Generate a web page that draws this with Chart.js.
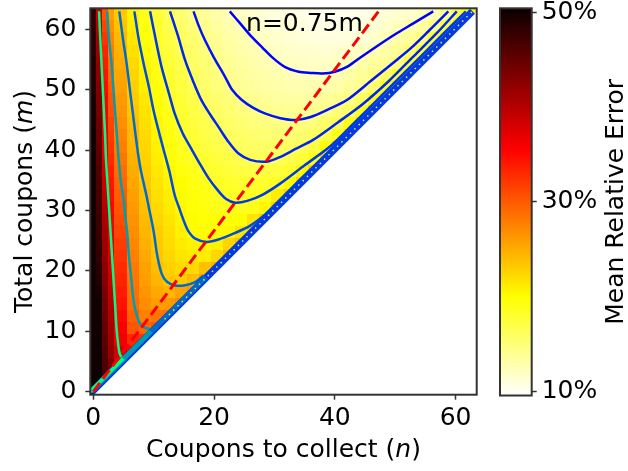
<!DOCTYPE html>
<html lang="en">
<head>
<meta charset="UTF-8">
<title>Coupon collector error</title>
<style>
  body { margin: 0; background: #fff; }
  #wrap { position: relative; width: 628px; height: 471px; }
  #heat { position: absolute; left: 0; top: 0; }
  #cbar { position: absolute; left: 490px; top: 0; }
</style>
</head>
<body>
<div id="wrap">
  <canvas id="heat" width="490" height="471"></canvas>
  <canvas id="cbar" width="138" height="471"></canvas>
</div>
<script src="https://cdn.jsdelivr.net/npm/chart.js@4.4.0/dist/chart.umd.min.js"></script>
<script>
const FONT = "'DejaVu Sans', sans-serif";
const FSIZE = 25;

const xTicks = [0, 20, 40, 60];
const yTicks = [0, 10, 20, 30, 40, 50, 60];
const cbarTicks = [10, 30, 50];
const errMin = 9.6, errMax = 50.4;

// cell boundaries: single columns for n = 0..3, pairs after that; rows are pairs of m
const nEdges = [-0.5, 0.5, 1.5, 2.5, 3.5, 5.5, 7.5, 9.5, 11.5, 13.5, 15.5, 17.5, 19.5, 21.5, 23.5,
  25.5, 27.5, 29.5, 31.5, 33.5, 35.5, 37.5, 39.5, 41.5, 43.5, 45.5, 47.5, 49.5, 51.5, 53.5,
  55.5, 57.5, 59.5, 61.5, 63.5];
const mEdges = [-0.5, 1.5, 3.5, 5.5, 7.5, 9.5, 11.5, 13.5, 15.5, 17.5, 19.5, 21.5, 23.5, 25.5,
  27.5, 29.5, 31.5, 33.5, 35.5, 37.5, 39.5, 41.5, 43.5, 45.5, 47.5, 49.5, 51.5, 53.5, 55.5,
  57.5, 59.5, 61.5, 63.5];

// mean relative error (%), bottom row first
const errRows = [
  [50, 50],
  [50, 50, 47.2, 44.2],
  [50, 50, 46.4, 43.2, 39.7],
  [50, 50, 45.9, 41.9, 38.2, 35.2],
  [50, 50, 45.4, 41.4, 36.4, 33.2, 32.2],
  [50, 50, 44.9, 40.9, 35.9, 30.4, 29.2, 30.2],
  [50, 50, 44.4, 40.4, 35.2, 29.7, 27.7, 28.4, 28.7],
  [50, 50, 43.9, 39.9, 34.4, 28.9, 26.9, 25.9, 26.2, 27.2],
  [50, 49.5, 43.4, 39.4, 33.9, 28.7, 26.4, 25.2, 24.4, 25.5, 26.2],
  [50, 49, 42.9, 38.9, 33.4, 28.4, 25.9, 24.4, 23.3, 22.9, 24, 25.7],
  [50, 48.5, 42.4, 38.4, 32.9, 28.1, 25.6, 24, 22.9, 22.3, 22.2, 23.8, 24.7],
  [50, 48, 41.9, 37.9, 32.4, 27.7, 25.2, 23.5, 22.4, 21.6, 21.2, 21.1, 22.4, 24.2],
  [50, 47.8, 41.4, 37.2, 31.9, 27.3, 24.8, 23.2, 22.1, 21.2, 20.7, 20.5, 20.8, 22.6, 23.7],
  [50, 47.5, 40.9, 36.6, 31.4, 26.9, 24.4, 23, 21.9, 20.8, 20.2, 20, 20.1, 20.3, 21.6, 23.2],
  [50, 47.3, 40.4, 36, 30.9, 26.6, 24.1, 22.6, 21.6, 20.6, 20, 19.7, 19.6, 19.6, 19.9, 21.5, 23],
  [50, 47, 39.9, 35.4, 30.4, 26.2, 23.8, 22.2, 21.2, 20.4, 19.8, 19.4, 19.1, 18.9, 18.8, 19, 20.4, 22.7],
  [50, 46.7, 39.4, 34.8, 29.9, 25.8, 23.6, 21.9, 21, 20.2, 19.6, 19.2, 18.8, 18.6, 18.4, 18.5, 18.9, 21, 22.5],
  [50, 46.4, 38.9, 34.2, 29.4, 25.4, 23.3, 21.6, 20.7, 20, 19.4, 18.9, 18.5, 18.2, 18, 18, 18.2, 18.4, 20.2, 22.2],
  [50, 46, 38.4, 33.6, 28.9, 25, 23, 21.3, 20.3, 19.5, 18.9, 18.4, 18, 17.6, 17.3, 17.2, 17.3, 17.5, 18.2, 20.3, 22.2],
  [50, 45.6, 37.9, 33, 28.4, 24.7, 22.7, 21, 19.9, 19, 18.5, 18, 17.5, 17.1, 16.7, 16.5, 16.4, 16.5, 16.9, 17.6, 19.4, 22.2],
  [50, 45.2, 37.4, 32.4, 27.9, 24.4, 22.4, 20.8, 19.6, 18.7, 18.1, 17.5, 17, 16.6, 16.2, 16, 15.8, 15.8, 16.1, 16.5, 17.4, 19.9, 22],
  [50, 44.8, 36.9, 31.9, 27.4, 24.2, 22.2, 20.6, 19.4, 18.5, 17.8, 17.1, 16.6, 16.2, 15.8, 15.5, 15.3, 15.2, 15.3, 15.5, 16, 16.8, 18.9, 21.7],
  [49.5, 44.4, 36.4, 31.4, 26.9, 23.9, 21.9, 20.4, 19.2, 18.3, 17.5, 16.8, 16.3, 15.8, 15.4, 15.1, 14.8, 14.7, 14.7, 14.8, 15.1, 15.7, 16.6, 19.2, 21.7],
  [49.5, 44, 35.9, 30.7, 26.4, 23.5, 21.6, 20.1, 18.9, 18, 17.2, 16.5, 15.9, 15.4, 14.9, 14.6, 14.3, 14.1, 14, 14, 14.2, 14.5, 15.1, 16, 18.6, 21.7],
  [49.5, 43.5, 35.4, 30.2, 26.1, 23.2, 21.3, 19.8, 18.6, 17.7, 16.9, 16.1, 15.5, 15, 14.5, 14.1, 13.8, 13.6, 13.5, 13.4, 13.5, 13.7, 14.2, 14.9, 16.1, 19, 21.2],
  [49, 43, 34.9, 29.7, 25.7, 22.9, 20.9, 19.4, 18.2, 17.4, 16.5, 15.7, 15.1, 14.5, 14, 13.6, 13.3, 13.1, 12.9, 12.8, 12.8, 12.9, 13.2, 13.7, 14.4, 15.4, 18.7, 21.2],
  [49, 42.5, 34.4, 29.2, 25.3, 22.6, 20.7, 19.2, 18, 17.1, 16.2, 15.5, 14.8, 14.2, 13.7, 13.3, 13, 12.8, 12.6, 12.4, 12.4, 12.4, 12.7, 13.2, 13.8, 14.5, 15.9, 18.4, 20.7],
  [49, 42, 33.9, 28.7, 24.9, 22.2, 20.4, 18.9, 17.8, 16.8, 15.9, 15.2, 14.4, 13.9, 13.4, 13, 12.7, 12.4, 12.2, 12, 11.9, 11.9, 12.2, 12.6, 13.1, 13.6, 13.9, 14.8, 17.7, 20.2],
  [48.5, 41.5, 33.4, 28.1, 24.6, 21.8, 20.1, 18.6, 17.5, 16.5, 15.7, 14.9, 14.2, 13.6, 13.1, 12.7, 12.3, 12, 11.8, 11.6, 11.5, 11.4, 11.6, 11.8, 12.2, 12.7, 13.2, 14, 15.4, 17.9, 20.2],
  [48.5, 41, 32.4, 27.4, 24.2, 21.4, 19.7, 18.3, 17.1, 16.2, 15.4, 14.5, 13.9, 13.3, 12.8, 12.3, 11.9, 11.6, 11.4, 11.2, 11, 10.9, 10.9, 11, 11.3, 11.7, 12.4, 13.1, 13.8, 14.8, 17.8, 20.2],
  [48, 40, 31.4, 26.6, 23.7, 21, 19.3, 18, 16.8, 15.8, 14.9, 14.2, 13.5, 12.9, 12.4, 12, 11.6, 11.3, 11.1, 10.9, 10.7, 10.6, 10.6, 10.7, 10.9, 11.3, 11.8, 12.3, 12.8, 13.4, 14.8, 17.6, 20.2],
  [48, 39, 30.4, 25.9, 23.2, 20.7, 18.9, 17.8, 16.5, 15.4, 14.5, 13.8, 13.1, 12.5, 12, 11.6, 11.3, 11, 10.8, 10.6, 10.4, 10.3, 10.3, 10.4, 10.6, 10.9, 11.2, 11.5, 11.8, 12.1, 12.7, 14.2, 17.7, 20.2]
];

// contour levels (%) and their traced paths as [n, m]
const levels = [12.4, 14.4, 16.4, 18.4, 20.4, 23.4, 28.4, 38.4];
const c12 = [[22.6,63],[24.5,60.8],[26.2,58.8],[28,57],[29.5,55.5],[31.7,53.8],[34,53],[36,52.8],[38,52.7],
  [40,53],[42,53.8],[44,55.2],[47.4,57.5],[50,59.2],[53,61],[56.3,63]];
const c14 = [[16.6,63],[17.5,60.5],[18.5,58.2],[20,55.3],[21.8,52.2],[23,50],[24.6,48.3],[26.5,47],[28.4,46.1],
  [31,45.3],[33.5,45],[36,45.5],[39,46.8],[42,48.3],[46,51.5],[50.2,54.9],[52.6,56.9],[55.5,59.7],[58.8,63]];
const c16 = [[12.7,63],[14,59],[15.2,54.9],[16.5,51.5],[17.9,48.3],[19.3,46],[20.7,43.9],[22.3,41.5],[24,39.5],
  [26,38.4],[28.7,38.1],[31,38.9],[33.5,40.2],[36.4,41.7],[40.5,44.6],[44.7,47.7],[49,51.5],[53,55.5],[57,59.5],[60.2,63]];
const c18 = [[9.4,63],[10.3,58.5],[11.3,53.8],[12.5,49.5],[13.5,46],[14.8,42.8],[16.2,40.3],[17.5,38],[19,35.5],
  [20.5,33.5],[22,31.9],[23.5,31.3],[25.5,31.6],[28,32.6],[31,34.5],[35,37.5],[39.2,40.6],[43,44.3],[47,48.3],
  [52,53.3],[57,58.3],[61.7,63]];
const c20 = [[6.8,63],[7.5,58.5],[8.3,54.5],[9.2,50.5],[10,46.5],[11,42.5],[11.8,39.5],[12.6,36.5],[13.5,32.5],
  [14.2,30.5],[15.1,28],[15.8,26.5],[16.8,25.4],[18.8,24.8],[21,25.3],[23.5,26.3],[26,27.5],[28.5,29.4],
  [30.5,31.4],[34,34.9],[38,38.8],[42,42.8],[46,46.7]];
const c23 = [[4.3,63],[4.9,58.5],[5.5,54.5],[6,50.5],[6.5,46.5],[7,42.5],[7.4,39.5],[7.9,36.5],[8.8,32.5],
  [9.2,30.5],[10,26.5],[10.6,22.5],[11.3,19.6],[12.2,18.2],[13.5,17.6],[15,17.6],[16.8,18.1],[18.2,19.2]];
const c28 = [[2.3,63],[2.6,58.5],[3,54.5],[3.3,50.5],[3.6,46.5],[3.9,42.5],[4.2,38.5],[4.6,34.5],[5,32],
  [5.3,29],[5.6,26.5],[5.9,22.5],[6.3,18.5],[6.6,15.5],[6.9,13.8],[7.4,12],[7.9,11],[8.8,10.5],[9.8,10.3]];
const c38 = [[0.95,63],[1.15,58.5],[1.35,54.5],[1.55,50.5],[1.75,46.5],[1.95,42.5],[2.1,38.5],[2.35,34.5],
  [2.6,30.5],[2.85,26.5],[3.1,22.5],[3.35,18.5],[3.6,14.5],[3.85,10.5],[4.1,8],[4.4,6.2],[5,5.4]];

// contours that pile up along the n = m edge
const bandAll = [[-0.2,0],[62.8,63]];
const band23 = [[-0.35,0],[18.65,19]];
const band28 = [[-0.45,0],[9.55,10]];
const band38 = [[-0.55,0],[4.95,5.5]];
const bandDots = [[11.8,12],[62.8,63]];

const ratioLine = [[0,0],[47.25,63]];

function hotR(v) {
  let s = 1 - (v - errMin) / (errMax - errMin);
  s = Math.min(1, Math.max(0, s));
  const r = s < 0.365079 ? 0.0416 + 0.9584 * s / 0.365079 : 1;
  const g = s < 0.365079 ? 0 : (s < 0.746032 ? (s - 0.365079) / 0.380953 : 1);
  const b = s < 0.746032 ? 0 : (s - 0.746032) / 0.253968;
  return 'rgb(' + Math.round(r * 255) + ',' + Math.round(g * 255) + ',' + Math.round(b * 255) + ')';
}

function winter(level) {
  const t = (level - levels[0]) / (levels[levels.length - 1] - levels[0]);
  return 'rgb(0,' + Math.round(255 * t) + ',' + Math.round(255 * (1 - 0.5 * t)) + ')';
}

const toXY = pts => pts.map(p => ({x: p[0], y: p[1]}));

function lineSet(pts, color, width, extra) {
  return Object.assign({
    data: toXY(pts), showLine: true, borderColor: color, borderWidth: width,
    pointRadius: 0, fill: false, tension: 0.3
  }, extra || {});
}

// text with an italic variable, centred on (cx, cy)
function drawMixed(ctx, parts, cx, cy, rotate) {
  ctx.save();
  ctx.translate(cx, cy);
  if (rotate) ctx.rotate(-Math.PI / 2);
  const fonts = parts.map(p => (p[1] ? 'italic ' : '') + FSIZE + 'px ' + FONT);
  let total = 0;
  const widths = parts.map((p, i) => { ctx.font = fonts[i]; const w = ctx.measureText(p[0]).width; total += w; return w; });
  let xPos = -total / 2;
  ctx.textAlign = 'left';
  ctx.textBaseline = 'middle';
  ctx.fillStyle = '#000';
  parts.forEach((p, i) => { ctx.font = fonts[i]; ctx.fillText(p[0], xPos, 0); xPos += widths[i]; });
  ctx.restore();
}

function drawLabel(ctx, text, px, py, align) {
  ctx.save();
  ctx.font = FSIZE + 'px ' + FONT;
  ctx.fillStyle = '#000';
  ctx.textAlign = align;
  ctx.textBaseline = 'middle';
  ctx.fillText(text, px, py);
  ctx.restore();
}

const heatmapPlugin = {
  id: 'heatmap',
  beforeDatasetsDraw(chart) {
    const {ctx, scales: {x, y}} = chart;
    ctx.save();
    // only cells with n <= m hold a value
    ctx.beginPath();
    ctx.moveTo(x.getPixelForValue(x.min), y.getPixelForValue(y.min));
    ctx.lineTo(x.getPixelForValue(x.min + 0.5), y.getPixelForValue(y.min));
    ctx.lineTo(x.getPixelForValue(x.max), y.getPixelForValue(y.max - 0.5));
    ctx.lineTo(x.getPixelForValue(x.max), y.getPixelForValue(y.max));
    ctx.lineTo(x.getPixelForValue(x.min), y.getPixelForValue(y.max));
    ctx.closePath();
    ctx.clip();
    errRows.forEach((row, k) => {
      const yTop = Math.round(y.getPixelForValue(mEdges[k + 1]));
      const yBot = Math.round(y.getPixelForValue(mEdges[k]));
      row.forEach((v, j) => {
        const xl = Math.round(x.getPixelForValue(nEdges[j]));
        const xr = Math.round(x.getPixelForValue(nEdges[j + 1]));
        ctx.fillStyle = hotR(v);
        ctx.fillRect(xl, yTop, xr - xl, yBot - yTop);
      });
    });
    ctx.restore();
  },
  afterDraw(chart) {
    const {ctx, chartArea: a, scales: {x, y}} = chart;
    ctx.save();
    ctx.strokeStyle = '#333';
    ctx.lineWidth = 2;
    ctx.strokeRect(a.left, a.top, a.right - a.left, a.bottom - a.top);
    ctx.restore();
    drawLabel(ctx, 'n=0.75m', x.getPixelForValue(25.3), y.getPixelForValue(60.8), 'left');
    xTicks.forEach(v => drawLabel(ctx, String(v), x.getPixelForValue(v), a.bottom + 24, 'center'));
    yTicks.forEach(v => drawLabel(ctx, String(v), a.left - 14, y.getPixelForValue(v), 'right'));
    drawMixed(ctx, [['Coupons to collect (', false], ['n', true], [')', false]], (a.left + a.right) / 2, a.bottom + 56, false);
    drawMixed(ctx, [['Total coupons (', false], ['m', true], [')', false]], 25, (a.top + a.bottom) / 2, true);
  }
};

const tickGrid = {drawOnChartArea: false, drawTicks: true, tickLength: 5, tickWidth: 1.5, tickColor: '#333'};

new Chart(document.getElementById('heat'), {
  type: 'scatter',
  data: {
    datasets: [
      lineSet(ratioLine, 'rgb(255,0,0)', 3, {borderDash: [11, 5], tension: 0}),
      lineSet(bandDots, 'rgb(240,230,40)', 1.5, {borderDash: [1.5, 4.6], tension: 0}),
      lineSet(band38, winter(38.4), 3.5, {tension: 0}),
      lineSet(band28, winter(28.4), 4.5, {tension: 0}),
      lineSet(band23, winter(23.4), 5, {tension: 0}),
      lineSet(bandAll, winter(18.4), 7, {tension: 0}),
      lineSet(c38, winter(38.4), 2.5),
      lineSet(c28, winter(28.4), 2.5),
      lineSet(c23, winter(23.4), 2.5),
      lineSet(c20, winter(20.4), 2.5),
      lineSet(c18, winter(18.4), 2.5),
      lineSet(c16, winter(16.4), 2.5),
      lineSet(c14, winter(14.4), 2.5),
      lineSet(c12, winter(12.4), 2.5)
    ]
  },
  options: {
    responsive: false,
    animation: false,
    layout: {padding: {left: 0, right: 13.3, top: 8.3, bottom: 0}},
    plugins: {legend: {display: false}, tooltip: {enabled: false}},
    scales: {
      x: {
        type: 'linear', min: -0.5, max: 63.5,
        afterBuildTicks: s => { s.ticks = xTicks.map(v => ({value: v})); },
        afterFit: s => { s.height = 76.3; },
        grid: tickGrid,
        border: {display: false},
        ticks: {display: false}
      },
      y: {
        type: 'linear', min: -0.5, max: 63.5,
        afterBuildTicks: s => { s.ticks = yTicks.map(v => ({value: v})); },
        afterFit: s => { s.width = 90.3; },
        grid: tickGrid,
        border: {display: false},
        ticks: {display: false}
      }
    }
  },
  plugins: [heatmapPlugin]
});

const cbarPlugin = {
  id: 'cbarFrame',
  afterDraw(chart) {
    const {ctx, chartArea: a, scales: {y}} = chart;
    ctx.save();
    ctx.strokeStyle = '#333';
    ctx.lineWidth = 2;
    ctx.strokeRect(a.left, a.top, a.right - a.left, a.bottom - a.top);
    ctx.restore();
    cbarTicks.forEach(v => drawLabel(ctx, v + '%', a.right + 10, y.getPixelForValue(v), 'left'));
    drawMixed(ctx, [['Mean Relative Error', false]], a.right + 85, (a.top + a.bottom) / 2, true);
  }
};

new Chart(document.getElementById('cbar'), {
  type: 'bar',
  data: {
    labels: [''],
    datasets: [{
      data: [[errMin, errMax]],
      barPercentage: 1,
      categoryPercentage: 1,
      borderWidth: 0,
      backgroundColor: c => {
        const {chart} = c;
        if (!chart.chartArea) return 'rgba(0,0,0,0)';
        const y = chart.scales.y;
        const g = chart.ctx.createLinearGradient(0, y.getPixelForValue(errMax), 0, y.getPixelForValue(errMin));
        g.addColorStop(0, hotR(errMax));
        g.addColorStop(0.365079, 'rgb(255,0,0)');
        g.addColorStop(0.746032, 'rgb(255,255,0)');
        g.addColorStop(1, hotR(errMin));
        return g;
      }
    }]
  },
  options: {
    responsive: false,
    animation: false,
    layout: {padding: {left: 10, right: 0, top: 8.3, bottom: 75.5}},
    plugins: {legend: {display: false}, tooltip: {enabled: false}},
    scales: {
      x: {display: false},
      y: {
        position: 'right', min: errMin, max: errMax,
        afterBuildTicks: s => { s.ticks = cbarTicks.map(v => ({value: v})); },
        afterFit: s => { s.width = 96.3; },
        grid: tickGrid,
        border: {display: false},
        ticks: {display: false}
      }
    }
  },
  plugins: [cbarPlugin]
});
</script>
</body>
</html>
